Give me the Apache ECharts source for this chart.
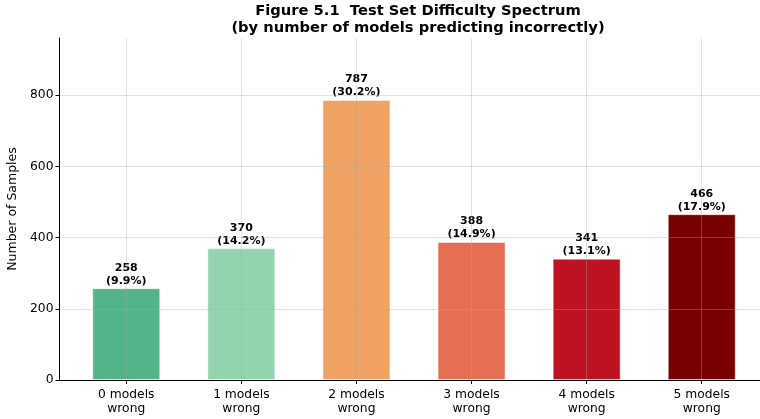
<!DOCTYPE html>
<html>
<head>
<meta charset="utf-8">
<script src="https://cdn.jsdelivr.net/npm/echarts@6/dist/echarts.min.js"></script>
<style>
  html, body { margin: 0; padding: 0; background: #fff; }
  #chart { width: 760px; height: 419px; }
</style>
</head>
<body>
<div id="chart"></div>
<script>
// data
var categories = ['0 models\nwrong', '1 models\nwrong', '2 models\nwrong', '3 models\nwrong', '4 models\nwrong', '5 models\nwrong'];
var counts = [258, 370, 787, 388, 341, 466];
var percents = ['9.9%', '14.2%', '30.2%', '14.9%', '13.1%', '17.9%'];
var barColors = ['#52b488', '#91d4ae', '#f0a262', '#e46f52', '#bd1221', '#780000'];
var yTicks = [0, 200, 400, 600, 800];
var xTicks = [0, 1, 2, 3, 4, 5];

var chart = echarts.init(document.getElementById('chart'));
var font = 'DejaVu Sans';
var gridColor = 'rgba(170,170,170,0.35)';

var option = {
  animation: false,
  textStyle: { fontFamily: font },
  title: {
    text: 'Figure 5.1  Test Set Difficulty Spectrum\n(by number of models predicting incorrectly)',
    left: 413,
    top: -2,
    textAlign: 'center',
    textStyle: { fontFamily: font, fontSize: 14.7, fontWeight: 'bold', color: '#000', lineHeight: 16.5 }
  },
  grid: { left: 59.5, top: 38, width: 709, height: 342, outerBoundsMode: 'none', containLabel: false },
  xAxis: {
    type: 'value',
    min: -0.58,
    max: 5.58,
    z: 3,
    axisLine: { show: true, onZero: false, lineStyle: { color: '#000', width: 1 } },
    axisTick: { show: true, customValues: xTicks, length: 4, lineStyle: { color: '#000' } },
    axisLabel: {
      customValues: xTicks,
      formatter: function (v) { return categories[Math.round(v)]; },
      color: '#000', fontSize: 12.3, lineHeight: 14, margin: 8
    },
    splitLine: { show: true, lineStyle: { color: gridColor, width: 1 } }
  },
  yAxis: {
    type: 'value',
    min: 0,
    max: 961,
    z: 3,
    name: 'Number of Samples',
    nameLocation: 'middle',
    nameGap: 34,
    nameTextStyle: { fontFamily: font, fontSize: 12.5, color: '#000' },
    axisLine: { show: true, onZero: false, lineStyle: { color: '#000', width: 1 } },
    axisTick: { show: true, customValues: yTicks, length: 4, lineStyle: { color: '#000' } },
    axisLabel: { customValues: yTicks, color: '#000', fontSize: 12.3, margin: 6 },
    splitLine: { show: true, lineStyle: { color: gridColor, width: 1 } }
  },
  series: [{
    type: 'bar',
    barWidth: 68,
    data: counts.map(function (v, i) {
      return {
        value: [xTicks[i], v],
        itemStyle: { color: barColors[i], borderColor: 'rgba(255,255,255,0.5)', borderWidth: 1 }
      };
    }),
    label: {
      show: true,
      position: 'top',
      distance: 1,
      formatter: function (p) { return counts[p.dataIndex] + '\n(' + percents[p.dataIndex] + ')'; },
      fontFamily: font, fontSize: 11, fontWeight: 'bold', color: '#000', lineHeight: 13
    }
  }]
};
chart.setOption(option);
</script>
</body>
</html>
